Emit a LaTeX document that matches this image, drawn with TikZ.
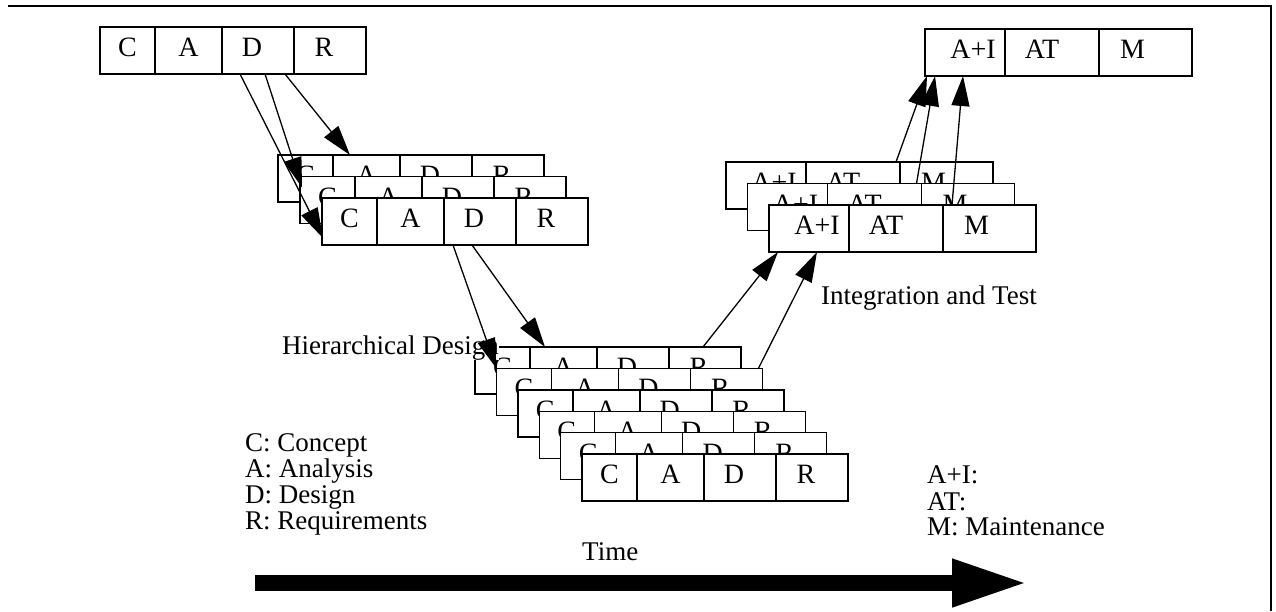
\documentclass[tikz,border=0pt]{standalone}
\usepackage{fontspec}
\setmainfont{Liberation Serif}
\usetikzlibrary{calc,arrows.meta}

\newcommand{\figfont}{\fontsize{27}{26}\selectfont}
\newcommand{\cellfont}{\fontsize{28}{28}\selectfont}

\tikzset{
	cell/.style={draw, fill=white, line width=1.4pt, inner sep=0pt, outer sep=0pt, minimum height=47pt, text height=19pt, text depth=7pt, font=\cellfont},
	lbl/.style={inner sep=0pt, anchor=base west, font=\figfont},
	flow/.style={line width=1.3pt, -{Triangle[length=30pt,width=18pt]}}
}

% one row of C A D R cells, top left corner at (#2,#3)
\newcommand{\cadrbox}[3]{%
	\node[cell, minimum width=55pt, anchor=north west] (#1-c) at (#2,#3) {C};
	\node[cell, minimum width=67pt, anchor=north west] (#1-a) at (#1-c.north east) {A};
	\node[cell, minimum width=72pt, anchor=north west] (#1-d) at (#1-a.north east) {D\hspace*{12pt}};
	\node[cell, minimum width=72pt, anchor=north west] (#1-r) at (#1-d.north east) {R\hspace*{12pt}};
}
% one row of A+I AT M cells
\newcommand{\itmbox}[3]{%
	\node[cell, minimum width=80pt, anchor=north west] (#1-ai) at (#2,#3) {\hspace*{16pt}A+I};
	\node[cell, minimum width=94pt, anchor=north west] (#1-at) at (#1-ai.north east) {AT\hspace*{20pt}};
	\node[cell, minimum width=93pt, anchor=north west] (#1-m) at (#1-at.north east) {M\hspace*{26pt}};
}

\begin{document}
\begin{tikzpicture}[x=1pt, y=-1pt]
	%%%%% START %%%%%
	\useasboundingbox (0,0) rectangle (1276,611);
	
	\draw[line width=2pt] (8,6) -- (1271,6) -- (1271,611);
	
	% system level
	\cadrbox{sysreq}{100}{27}
	\itmbox{sysint}{925}{29}
	
	% hierarchical design
	\foreach \i in {0,1,2} {\cadrbox{hd\i}{278+22*\i}{155+21.5*\i}}
	\foreach \i in {0,...,5} {\cadrbox{ld\i}{475+21.4*\i}{347+21.4*\i}}
	
	% integration and test
	\foreach \i in {0,1,2} {\itmbox{it\i}{726+21.5*\i}{162+21.5*\i}}
	
	\node[lbl, fill=white] (hdlabel) at (282,354) {Hierarchical Design};
	\node[lbl] (itlabel) at (821,304) {Integration and Test};
	\node[lbl] (timelabel) at (582,560) {Time};
	
	\node[lbl] (legc) at (245,451) {C: Concept};
	\node[lbl] (lega) at (245,477) {A: Analysis};
	\node[lbl] (legd) at (245,503) {D: Design};
	\node[lbl] (legr) at (245,529) {R: Requirements};
	
	\node[lbl] (legai) at (927,483) {A+I:};
	\node[lbl] (legat) at (927,510) {AT:};
	\node[lbl] (legm) at (927,535) {M: Maintenance};
	
	% down the left side
	\draw[flow] ($(sysreq-d.south west)+(18,0)$) -- ($(hd2-c.south west)+(1,-7)$);
	\draw[flow] ($(sysreq-d.south west)+(43,0)$) -- ($(hd1-c.north west)+(2,11)$);
	\draw[flow] ($(sysreq-d.south west)+(63,0)$) -- ($(hd0-a.north west)+(17,0)$);
	\draw[flow] ($(hd2-d.south west)+(9,0)$) -- (ld1-c.north west);
	\draw[flow] ($(hd2-d.south west)+(28,0)$) -- ($(ld0-a.north west)+(15,0)$);
	
	% up the right side
	\draw[flow] ($(ld0-r.north west)+(34,0)$) -- ($(it2-ai.south west)+(9,0)$);
	\draw[flow] ($(ld1-r.north east)+(-4,0)$) -- ($(it2-ai.south west)+(48,0)$);
	\draw[flow] ($(it0-at.north east)+(-4,0)$) -- ($(sysint-ai.south west)+(2,0)$);
	\draw[flow] ($(it1-m.north west)+(-5,0)$) -- ($(sysint-ai.south west)+(10,0)$);
	\draw[flow] ($(it2-m.north west)+(9,0)$) -- ($(sysint-ai.south west)+(38,0)$);
	
	% time axis
	\coordinate (t0) at (255,583);
	\coordinate (t1) at (1028,583);
	\draw[line width=16pt, -{Triangle[length=76pt,width=44pt]}] (t0) -- (t1);
	%%%%% END %%%%%
\end{tikzpicture}
\end{document}
